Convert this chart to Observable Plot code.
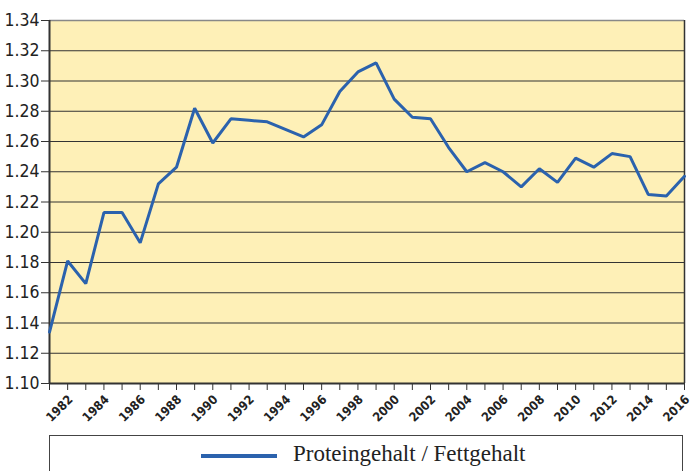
<!DOCTYPE html>
<html>
<head>
<meta charset="utf-8">
<script src="https://cdn.jsdelivr.net/npm/d3@7"></script>
<script src="https://cdn.jsdelivr.net/npm/@observablehq/plot@0.6"></script>
<style>
  html, body { margin: 0; padding: 0; background: #fff; width: 692px; height: 471px; overflow: hidden; }
  #wrap { position: relative; width: 692px; height: 471px; }
  #legend { position: absolute; left: 49px; top: 435px; width: 634px; height: 60px;
            border: 1px solid #444; box-sizing: border-box; background: #fff; }
  #legend .sw { position: absolute; left: 151px; top: 18px; width: 76px; height: 4px; background: #2b62ad; }
  #legend .lb { position: absolute; left: 243px; top: 5px; font-family: "Liberation Serif", serif;
                font-size: 23px; color: #222; white-space: nowrap; }
</style>
</head>
<body>
<div id="wrap">
  <div id="chart"></div>
  <div id="legend"><div class="sw"></div><div class="lb">Proteingehalt / Fettgehalt</div></div>
</div>
<script>
const years = d3.range(1981, 2017);
const ratio = [
  1.134, 1.181, 1.166, 1.213, 1.213, 1.193, 1.232, 1.243, 1.282, 1.259,
  1.275, 1.274, 1.273, 1.268, 1.263, 1.271, 1.293, 1.306, 1.312, 1.288,
  1.276, 1.275, 1.256, 1.240, 1.246, 1.240, 1.230, 1.242, 1.233, 1.249,
  1.243, 1.252, 1.250, 1.225, 1.224, 1.237
];
const yTicks = d3.range(1.10, 1.3401, 0.02).map(v => +v.toFixed(2));
const xLabelYears = d3.range(1982, 2017, 2);
const seriesName = "Proteingehalt / Fettgehalt";

const data = years.map((y, i) => ({year: y, value: ratio[i]}));

const chart = Plot.plot({
  width: 692,
  height: 435,
  marginLeft: 49,
  marginRight: 8,
  marginTop: 20,
  marginBottom: 52,
  style: {background: "transparent", fontFamily: "'Liberation Sans Narrow', 'DejaVu Sans Condensed', sans-serif", overflow: "visible"},
  x: {domain: [1981, 2016], axis: null, label: null},
  y: {domain: [1.10, 1.34], axis: null, label: null},
  marks: [
    Plot.frame({fill: "#fef0b7", stroke: null}),
    Plot.ruleY(yTicks, {stroke: "#333", strokeWidth: 1.2}),
    Plot.ruleY([1.34], {stroke: "#888", strokeWidth: 1.5}),
    Plot.ruleX([2016], {stroke: "#333", strokeWidth: 1.5}),
    Plot.ruleX([1981], {stroke: "#333", strokeWidth: 2}),
    Plot.ruleY([1.10], {stroke: "#333", strokeWidth: 2}),
    Plot.axisY(yTicks, {tickFormat: d3.format(".2f"), tickSize: 8, tickPadding: 2, stroke: "#333",
      fontSize: 17.5, fill: "#222", label: null}),
    Plot.axisX(years, {tickFormat: () => "", tickSize: 7, stroke: "#333", label: null}),
    Plot.text(xLabelYears, {x: d => d, y: () => 1.10, text: d => String(d), rotate: -45,
      textAnchor: "end", fontSize: 12.5, fontWeight: "bold", fill: "#222"}),
    Plot.line(data, {x: "year", y: "value", stroke: "#2b62ad", strokeWidth: 3, strokeLinejoin: "miter"})
  ]
});
document.getElementById("chart").appendChild(chart);

// enforce the -45° rotation of the year labels at their scale positions
const sx = chart.scale("x"), sy = chart.scale("y");
const yearSet = new Set(xLabelYears.map(String));
d3.select(chart).selectAll("text").each(function() {
  const t = this.textContent;
  if (!yearSet.has(t)) return;
  const px = sx.apply(+t) + 3, py = sy.apply(1.10) + 14;
  d3.select(this).attr("x", null).attr("y", null).attr("dy", "0.32em")
    .attr("text-anchor", "end")
    .attr("transform", `translate(${px},${py}) rotate(-45)`);
});
</script>
</body>
</html>
